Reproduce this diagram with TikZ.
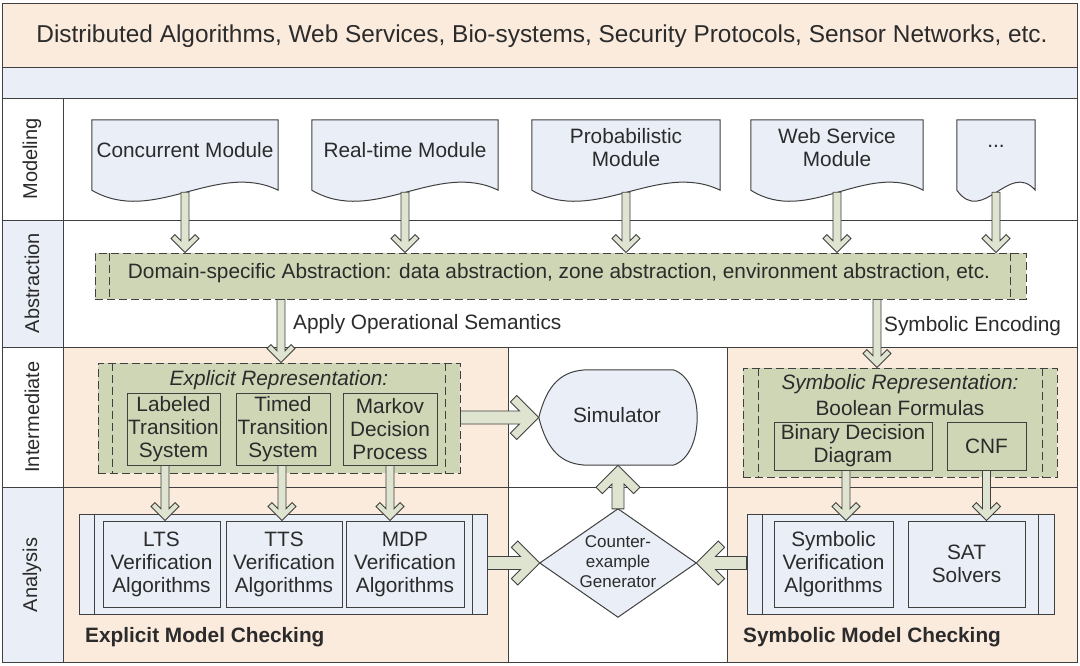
\documentclass[tikz,border=0pt]{standalone}
\usepackage{fontspec}
\setmainfont{Liberation Sans}
\usetikzlibrary{calc}
\definecolor{peach}{HTML}{FBEBDD}
\definecolor{lblue}{HTML}{E9EEF7}
\definecolor{olive}{HTML}{CED6B6}
\definecolor{arrfill}{HTML}{DEE4D0}
\definecolor{lin}{HTML}{404040}
\definecolor{txt}{HTML}{2B2B2B}
\tikzset{
  every node/.style={font=\fontsize{20.8}{23}\selectfont, text=txt, inner sep=0pt, align=center},
  grid/.style={draw=lin, line width=1pt},
  plainbox/.style={draw=lin, line width=1pt},
  olivebox/.style={plainbox, fill=olive},
  bluebox/.style={plainbox, fill=lblue},
  dashbox/.style={draw=lin, line width=1pt, dash pattern=on 8pt off 4pt},
  docsty/.style={draw=lin, line width=1pt, fill=lblue},
  barrow/.style={draw=lin, line width=0.9pt, fill=arrfill, line join=miter},
  rowlabel/.style={rotate=90, font=\fontsize{20}{22}\selectfont},
  ghost/.style={draw=none},
}
\newcommand\blockarrow[5]{%
  \pgfmathsetmacro\baA{#3+#5*1.41421}%
  \pgfmathsetmacro\baB{#4+#5*0.70711}%
  \pgfmathsetmacro\baC{#4-#5*0.70711}%
  \coordinate (ba-q) at ($(#2)!\baA pt!(#1)$);
  \coordinate (ba-r) at ($(#2)!\baB pt!(#1)$);
  \coordinate (ba-s) at ($(#2)!#4pt!(#1)$);
  \filldraw[barrow] ($(#1)!#3pt!-90:(#2)$) -- ($(ba-q)!#3pt!90:(#1)$) -- ($(ba-r)!\baC pt!90:(#1)$) -- ($(ba-s)!#4pt!90:(#1)$) -- (#2) -- ($(ba-s)!#4pt!-90:(#1)$) -- ($(ba-r)!\baC pt!-90:(#1)$) -- ($(ba-q)!#3pt!-90:(#1)$) -- ($(#1)!#3pt!90:(#2)$) -- cycle;}
\newcommand\docshape[1]{%
  \filldraw[docsty] (#1.north west) -- (#1.north east) -- ($(#1.south east)+(0,10)$)
    .. controls ($(#1.south east)!0.33!(#1.south west)+(0,-20)$) and ($(#1.south east)!0.67!(#1.south west)+(0,46)$) .. ($(#1.south west)+(0,10)$) -- cycle;}
\newcommand\innerdash[3]{% node, left offset, right offset
  \draw[dashbox] ($(#1.north west)+(#2,0)$) -- ($(#1.south west)+(#2,0)$);
  \draw[dashbox] ($(#1.north east)+(-#3,0)$) -- ($(#1.south east)+(-#3,0)$);}
\newcommand\innersolid[3]{%
  \draw[plainbox] ($(#1.north west)+(#2,0)$) -- ($(#1.south west)+(#2,0)$);
  \draw[plainbox] ($(#1.north east)+(-#3,0)$) -- ($(#1.south east)+(-#3,0)$);}
\begin{document}
\begin{tikzpicture}[x=1pt,y=-1pt]
\useasboundingbox (0,0) rectangle (1080,665);
\fill[white] (0,0) rectangle (1080,665);
% background bands
\fill[peach] (2,3) rectangle (1077,67);
\fill[lblue] (2,67) rectangle (1077,98);
\fill[lblue] (2,220) rectangle (63,347);
\fill[lblue] (2,487) rectangle (63,662);
\fill[peach] (63,347) rectangle (508,662);
\fill[peach] (727,347) rectangle (1077,662);
\draw[grid] (2,67) -- (1077,67);
\draw[grid] (2,98) -- (1077,98);
\draw[grid] (2,220) -- (1077,220);
\draw[grid] (2,347) -- (1077,347);
\draw[grid] (2,487) -- (1077,487);
\draw[grid] (63,98) -- (63,662);
\draw[grid] (508,347) -- (508,662);
\draw[grid] (727,347) -- (727,662);
\draw[grid] (2,3) rectangle (1077,662);

% title
\node[font=\fontsize{24.4}{27}\selectfont] (title) at (542,36) {Distributed Algorithms, Web Services, Bio-systems, Security Protocols, Sensor Networks, etc.};

% row labels
\node[rowlabel] (lmod) at (32,159) {Modeling};
\node[rowlabel] (labs) at (32,283) {Abstraction};
\node[rowlabel] (lint) at (32,417) {Intermediate};
\node[rowlabel] (lana) at (32,575) {Analysis};

% modules
\node[ghost, minimum width=186pt, minimum height=60pt] (cm) at (185,150) {};
\node[ghost, minimum width=186pt, minimum height=60pt] (rt) at (405,150) {};
\node[ghost, minimum width=188pt, minimum height=60pt] (pm) at (626,150) {};
\node[ghost, minimum width=172pt, minimum height=60pt] (ws) at (837,150) {};
\node[ghost, minimum width=78pt, minimum height=60pt] (dm) at (996,150) {};
\docshape{cm}\docshape{rt}\docshape{pm}\docshape{ws}\docshape{dm}
\node at (cm) {Concurrent Module};
\node at (rt) {Real-time Module};
\node at ($(pm)+(0,-2)$) {Probabilistic\\Module};
\node at ($(ws)+(0,-2)$) {Web Service\\Module};
\node at ($(dm)+(0,-4)$) {...};

% abstraction box
\node[olivebox, dashbox, fill=olive, minimum width=931pt, minimum height=46pt] (abs) at (560.5,276) {};
\innerdash{abs}{15}{16}
\node (abst) at (559,273) {Domain-specific Abstraction: data abstraction, zone abstraction, environment abstraction, etc.};

% explicit representation
\node[dashbox, fill=olive, minimum width=362pt, minimum height=110pt] (exr) at (279,418) {};
\innerdash{exr}{15}{15}
\node[font=\fontsize{20.8}{23}\selectfont\itshape] (exrt) at (279,380) {Explicit Representation:};
\node[olivebox, minimum width=93pt, minimum height=72pt] (lts) at (173.5,429) {Labeled\\Transition\\System};
\node[olivebox, minimum width=94pt, minimum height=72pt] (tts) at (283,429) {Timed\\Transition\\System};
\node[olivebox, minimum width=94pt, minimum height=72pt] (mdp) at (390,429) {Markov\\Decision\\Process};

% symbolic representation
\node[dashbox, fill=olive, minimum width=314pt, minimum height=109pt] (syr) at (900,422.5) {};
\innerdash{syr}{16}{15}
\node[font=\fontsize{20.8}{23}\selectfont\itshape] (syrt) at (900,384) {Symbolic Representation:};
\node (bool) at (900,408) {Boolean Formulas};
\node[olivebox, minimum width=158pt, minimum height=48pt] (bdd) at (853,446) {Binary Decision\\Diagram};
\node[olivebox, minimum width=79pt, minimum height=48pt] (cnf) at (986.5,446) {CNF};

% simulator
\node[ghost, minimum width=158pt, minimum height=95pt] (sim) at (618,417.5) {};
\filldraw[docsty] (sim.west) .. controls ($(sim.west)+(8,-32)$) and ($(sim.north west)+(22,0)$) .. ($(sim.north west)+(50,0)$)
  -- ($(sim.north east)+(-24,0)$) .. controls ($(sim.north east)+(8,10)$) and ($(sim.south east)+(8,-10)$) .. ($(sim.south east)+(-24,0)$)
  -- ($(sim.south west)+(50,0)$) .. controls ($(sim.south west)+(22,0)$) and ($(sim.west)+(8,32)$) .. (sim.west) -- cycle;
\node at ($(sim)+(-1,-2)$) {Simulator};

% counterexample generator
\node[ghost, minimum width=156pt, minimum height=108pt] (ceg) at (618,563) {};
\filldraw[docsty] (ceg.north) -- (ceg.east) -- (ceg.south) -- (ceg.west) -- cycle;
\node[font=\fontsize{17}{20}\selectfont] at ($(ceg)+(0,-1)$) {Counter-\\example\\Generator};

% explicit analysis
\node[bluebox, minimum width=408pt, minimum height=100pt] (exa) at (283,564) {};
\innersolid{exa}{16}{15}
\node[bluebox, minimum width=117pt, minimum height=86pt] (lv) at (161.5,564) {LTS\\Verification\\Algorithms};
\node[bluebox, minimum width=116pt, minimum height=86pt] (tv) at (284,564) {TTS\\Verification\\Algorithms};
\node[bluebox, minimum width=118pt, minimum height=86pt] (mv) at (405,564) {MDP\\Verification\\Algorithms};
\node[anchor=west, font=\fontsize{20.8}{23}\selectfont\bfseries] (emc) at (85,637) {Explicit Model Checking};

% symbolic analysis
\node[bluebox, minimum width=307pt, minimum height=100pt] (sya) at (900.5,564) {};
\innersolid{sya}{16}{16}
\node[bluebox, minimum width=119pt, minimum height=86pt] (sv) at (833.5,564) {Symbolic\\Verification\\Algorithms};
\node[bluebox, minimum width=117pt, minimum height=86pt] (sat) at (966.5,564) {SAT\\Solvers};
\node[anchor=west, font=\fontsize{20.8}{23}\selectfont\bfseries] (smc) at (743,637) {Symbolic Model Checking};

% labels of connectors
\node[anchor=west] (aos) at (293,324) {Apply Operational Semantics};
\node[anchor=west] (sen) at (884,326) {Symbolic Encoding};

% arrows modules -> abstraction
\foreach \m in {cm,rt,pm,ws,dm}{
  \coordinate (\m-s) at ($(\m.south)+(0,12)$);
  \coordinate (\m-e) at (\m-s |- abs.north);
  \blockarrow{\m-s}{\m-e}{4}{14}{5.5}
}
% abstraction -> representations
\coordinate (aos-s) at (abs.south -| 281,0);
\coordinate (aos-e) at (aos-s |- exr.north);
\blockarrow{aos-s}{aos-e}{4}{14}{5.5}
\coordinate (sen-s) at (abs.south -| 877,0);
\coordinate (sen-e) at (sen-s |- syr.north);
\blockarrow{sen-s}{sen-e}{4}{14}{5.5}
% representations -> analysis
\coordinate (l-s) at ($(lts.south)+(-8.5,0)$);
\coordinate (l-e) at (l-s |- lv.north);
\blockarrow{l-s}{l-e}{4}{14}{5.5}
\coordinate (t-s) at ($(tts.south)+(-1,0)$);
\coordinate (t-e) at (t-s |- tv.north);
\blockarrow{t-s}{t-e}{4}{14}{5.5}
\coordinate (m-s) at (mdp.south);
\coordinate (m-e) at (m-s |- mv.north);
\blockarrow{m-s}{m-e}{4}{14}{5.5}
\coordinate (b-s) at ($(bdd.south)+(-7,0)$);
\coordinate (b-e) at (b-s |- sv.north);
\blockarrow{b-s}{b-e}{4}{14}{5.5}
\coordinate (c-s) at (cnf.south);
\coordinate (c-e) at (c-s |- sat.north);
\blockarrow{c-s}{c-e}{4}{14}{5.5}
% big arrows
\coordinate (x-s) at (exr.east |- sim.west);
\blockarrow{x-s}{sim.west}{6.5}{22}{9}
\coordinate (g-s) at (exa.east |- ceg.west);
\blockarrow{g-s}{ceg.west}{6.5}{22}{9}
\coordinate (h-s) at (sya.west |- ceg.east);
\blockarrow{h-s}{ceg.east}{6.5}{22}{9}
\blockarrow{ceg.north}{sim.south}{6}{22}{9}
\end{tikzpicture}
\end{document}
